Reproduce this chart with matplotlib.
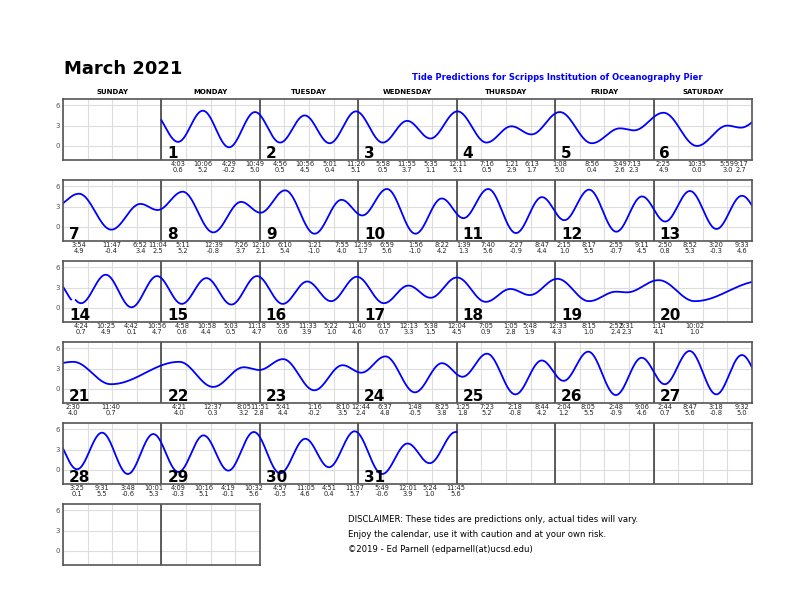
import numpy as np
import matplotlib
matplotlib.use("Agg")
import matplotlib.pyplot as plt
import matplotlib.transforms as mtransforms

# high / low tide events, local time (day of March, "HH:MM" 24h, height ft)
ev_day = [1, 1, 1, 1, 2, 2, 2, 2, 3, 3, 3, 4, 4, 4, 4, 5, 5, 5, 5, 6, 6, 6, 6,
          7, 7, 7, 7, 8, 8, 8, 9, 9, 9, 9, 10, 10, 10, 10, 11, 11, 11, 11,
          12, 12, 12, 12, 13, 13, 13, 13,
          14, 14, 14, 14, 15, 15, 15, 15, 16, 16, 16, 16, 17, 17, 17,
          18, 18, 18, 18, 19, 19, 19, 19, 20, 20,
          21, 21, 22, 22, 22, 22, 23, 23, 23, 24, 24, 24, 24, 25, 25, 25, 25,
          26, 26, 26, 26, 27, 27, 27, 27,
          28, 28, 28, 28, 29, 29, 29, 29, 30, 30, 30, 30, 31, 31, 31, 31]
ev_time = ["04:03", "10:06", "16:29", "22:49", "04:56", "10:56", "17:01", "23:26",
           "05:58", "11:55", "17:35", "00:11", "07:16", "13:21", "18:13",
           "01:08", "08:56", "15:49", "19:13", "02:25", "10:35", "17:59", "21:17",
           "03:54", "11:47", "18:52", "23:04", "05:11", "12:39", "19:26",
           "00:10", "06:10", "13:21", "19:55", "00:59", "06:59", "13:56", "20:22",
           "01:39", "07:40", "14:27", "20:47", "02:15", "08:17", "14:55", "21:11",
           "02:50", "08:52", "15:20", "21:33",
           "04:24", "10:25", "16:42", "22:56", "04:58", "10:58", "17:03", "23:18",
           "05:35", "11:33", "17:22", "23:40", "06:15", "12:13", "17:38",
           "00:04", "07:05", "13:05", "17:48", "00:33", "08:15", "14:52", "17:31",
           "01:14", "10:02",
           "02:30", "11:40", "04:21", "12:37", "20:05", "23:51", "05:41", "13:16", "20:10",
           "00:44", "06:37", "13:48", "20:25", "01:25", "07:23", "14:18", "20:44",
           "02:04", "08:05", "14:48", "21:06", "02:44", "08:47", "15:18", "21:32",
           "03:25", "09:31", "15:48", "22:01", "04:09", "10:16", "16:19", "22:32",
           "04:57", "11:05", "16:51", "23:07", "05:49", "12:01", "17:24", "23:45"]
ev_height = [0.6, 5.2, -0.2, 5.0, 0.5, 4.5, 0.4, 5.1, 0.5, 3.7, 1.1, 5.1, 0.5, 2.9, 1.7,
             5.0, 0.4, 2.6, 2.3, 4.9, 0.0, 3.0, 2.7,
             4.9, -0.4, 3.4, 2.5, 5.2, -0.8, 3.7, 2.1, 5.4, -1.0, 4.0, 1.7, 5.6, -1.0, 4.2,
             1.3, 5.6, -0.9, 4.4, 1.0, 5.5, -0.7, 4.5, 0.8, 5.3, -0.3, 4.6,
             0.7, 4.9, 0.1, 4.7, 0.6, 4.4, 0.5, 4.7, 0.6, 3.9, 1.0, 4.6, 0.7, 3.3, 1.5,
             4.5, 0.9, 2.8, 1.9, 4.3, 1.0, 2.4, 2.3, 4.1, 1.0,
             4.0, 0.7, 4.0, 0.3, 3.2, 2.8, 4.4, -0.2, 3.5, 2.4, 4.8, -0.5, 3.8,
             1.8, 5.2, -0.8, 4.2, 1.2, 5.5, -0.9, 4.6, 0.7, 5.6, -0.8, 5.0,
             0.1, 5.5, -0.6, 5.3, -0.3, 5.1, -0.1, 5.6, -0.5, 4.6, 0.4, 5.7, -0.6, 3.9, 1.0, 5.6]

# events just outside the month, only used to shape the curve ends
prev_event = (0, "21:49", 5.0)
next_event = (32, "06:45", -0.5)

weekdays = ["SUNDAY", "MONDAY", "TUESDAY", "WEDNESDAY", "THURSDAY", "FRIDAY", "SATURDAY"]
ndays = 31
dst_day = 14  # clocks jump 2:00 -> 3:00


def local_hours(day, hhmm):
    h, m = hhmm.split(":")
    return day * 24 + int(h) + int(m) / 60.0


def to_real(t):
    # standard-time hours since Feb 28 00:00
    return t - 1 if t >= dst_day * 24 + 3 else t


def label12(hhmm):
    h, m = hhmm.split(":")
    h = int(h) % 12
    if h == 0:
        h = 12
    return "%d:%s" % (h, m)


all_ev = [prev_event] + list(zip(ev_day, ev_time, ev_height)) + [next_event]
t_ev = np.array([to_real(local_hours(d, s)) for d, s, _ in all_ev])
h_ev = np.array([v for _, _, v in all_ev])

# tide curve between extremes (half-cosine between each high and low)
t_real = np.linspace(24, to_real(32 * 24), 6000)
idx = np.searchsorted(t_ev, t_real) - 1
idx = np.clip(idx, 0, len(t_ev) - 2)
t0, t1 = t_ev[idx], t_ev[idx + 1]
h0, h1 = h_ev[idx], h_ev[idx + 1]
curve = (h0 + h1) / 2 + (h0 - h1) / 2 * np.cos(np.pi * (t_real - t0) / (t1 - t0))
t_local = np.where(t_real >= dst_day * 24 + 2, t_real + 1, t_real)
gap = np.argmax(t_real >= dst_day * 24 + 2)
t_local = np.insert(t_local, gap, np.nan)
curve = np.insert(curve, gap, np.nan)

W, H = 800, 614
fig = plt.figure(figsize=(8, 6.14), dpi=100)

fig.text(64 / W, 1 - 69 / H, "March 2021", fontsize=13, fontweight="bold", va="center")
fig.text(703 / W, 1 - 77 / H, "Tide Predictions for Scripps Institution of Oceanography Pier",
         fontsize=6.0, fontweight="bold", color="blue", ha="right", va="center")

left, right = 63, 752
dayw = (right - left) / 7.0
for i, name in enumerate(weekdays):
    fig.text((left + dayw * (i + 0.5)) / W, 1 - 92 / H, name, fontsize=5, fontweight="bold",
             ha="center", va="center")


def style_axes(ax, n):
    ax.set_xlim(0, n)
    ax.set_ylim(-2, 7)
    ax.set_xticks(np.arange(0, n + 0.01, 0.25))
    ax.set_xticklabels([])
    ax.set_yticks([0, 3, 6])
    ax.tick_params(axis="x", length=0)
    ax.tick_params(axis="y", length=0, labelsize=5, labelcolor="#555555", pad=2)
    ax.grid(True, color="#dddddd", lw=0.8)
    ax.set_axisbelow(True)
    for sp in ax.spines.values():
        sp.set_color("#555555")
        sp.set_linewidth(1.2)
    for k in range(1, n):
        ax.axvline(k, color="#333333", lw=1.1)


for r in range(5):
    top = 98.5 + 81 * r
    ax = fig.add_axes([left / W, 1 - (top + 61) / H, (right - left) / W, 61 / H])
    style_axes(ax, 7)
    ax.plot(t_local / 24 - 7 * r, curve, color="blue", lw=1.3)
    trans = mtransforms.blended_transform_factory(ax.transData, ax.transAxes)
    for d in range(max(1, 7 * r), min(ndays, 7 * r + 6) + 1):
        ax.text(d - 7 * r + 0.06, 0.02, str(d), transform=trans, fontsize=11,
                fontweight="bold", ha="left", va="baseline")
    for d, s, v in zip(ev_day, ev_time, ev_height):
        if d // 7 != r:
            continue
        x = local_hours(d, s) / 24 - 7 * r
        ax.text(x, -0.07, label12(s), transform=trans, fontsize=4.8, color="#222222",
                ha="center", va="center", clip_on=False)
        ax.text(x, -0.17, "%.1f" % v, transform=trans, fontsize=4.8, color="#222222",
                ha="center", va="center", clip_on=False)

ax = fig.add_axes([left / W, 1 - (503.5 + 61) / H, 2 * dayw / W, 61 / H])
style_axes(ax, 2)

fig.text(348 / W, 1 - 519 / H, "DISCLAIMER: These tides are predictions only, actual tides will vary.",
         fontsize=6.1, va="center")
fig.text(348 / W, 1 - 534.5 / H, "Enjoy the calendar, use it with caution and at your own risk.",
         fontsize=6.1, va="center")
fig.text(348 / W, 1 - 549.5 / H, "\u00a92019 - Ed Parnell (edparnell(at)ucsd.edu)",
         fontsize=6.1, va="center")

fig.savefig("out.png", dpi=100)
